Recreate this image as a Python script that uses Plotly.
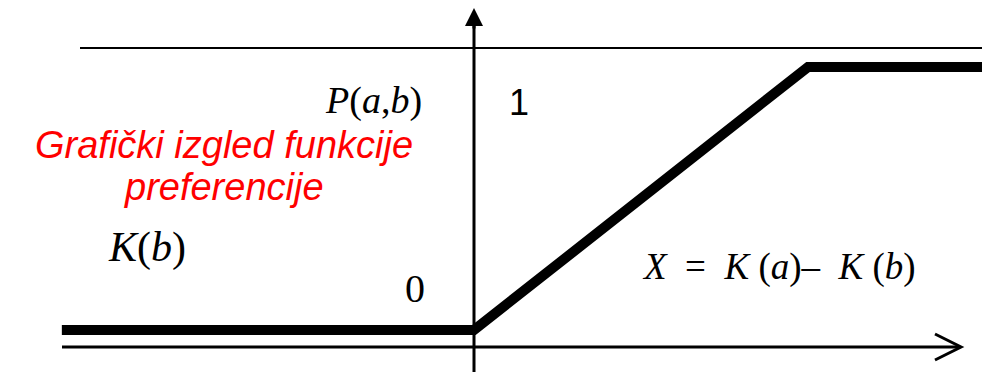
import plotly.graph_objects as go

# preference function P(a,b) against X = K(a) - K(b)
pref_x = [-1.234, 0, 1, 1.53]
pref_y = [0, 0, 1, 1]

W, H = 982, 372
x0_px, x1_px = 474, 808   # pixel of x=0 and x=1
y0_px, y1_px = 330, 67    # pixel of y=0 and y=1

def dx(px):
    return (px - x0_px) / (x1_px - x0_px)

def dy(py):
    return (y0_px - py) / (y0_px - y1_px)

fig = go.Figure()

# thick preference line
fig.add_trace(go.Scatter(x=pref_x, y=pref_y, mode="lines",
                         line=dict(color="black", width=10), hoverinfo="skip"))

# thin top line (level 1 reference)
fig.add_shape(type="line", x0=dx(80), x1=dx(985), y0=dy(48), y1=dy(48),
              line=dict(color="black", width=2))
# horizontal axis
fig.add_shape(type="line", x0=dx(62), x1=dx(958), y0=dy(347), y1=dy(347),
              line=dict(color="black", width=3))
# open arrow head on the horizontal axis
fig.add_shape(type="path",
              path="M %f,%f L %f,%f L %f,%f" % (dx(935), dy(334), dx(961), dy(347), dx(935), dy(360)),
              line=dict(color="black", width=3))
# vertical axis
fig.add_shape(type="line", x0=0, x1=0, y0=dy(372), y1=dy(20),
              line=dict(color="black", width=3))
fig.add_annotation(x=0, y=dy(8), ax=0, ay=dy(30), xref="x", yref="y", axref="x", ayref="y",
                   showarrow=True, arrowhead=2, arrowsize=1.2, arrowwidth=3,
                   arrowcolor="black", text="")

serif = "Liberation Serif"
labels = [
    ("<i>P</i>(<i>a</i>,<i>b</i>)", 373, 100, serif, 38, "black"),
    ("1", 519, 102, "Liberation Sans", 36, "black"),
    ("<i>K</i>(<i>b</i>)", 147, 247, serif, 42, "black"),
    ("0", 415, 288, serif, 40, "black"),
    ("<i>X</i>  =  <i>K</i> (<i>a</i>)–  <i>K</i> (<i>b</i>)", 779, 267, serif, 37, "black"),
    ("<i>Grafički izgled funkcije</i>", 224, 145, "Liberation Sans", 38, "red"),
    ("<i>preferencije</i>", 224, 187, "Liberation Sans", 38, "red"),
]
for txt, px, py, fam, size, col in labels:
    fig.add_annotation(x=dx(px), y=dy(py), text=txt, showarrow=False,
                       font=dict(family=fam, size=size, color=col))

fig.update_xaxes(range=[dx(0), dx(W)], visible=False)
fig.update_yaxes(range=[dy(H), dy(0)], visible=False)
fig.update_layout(width=W, height=H, margin=dict(l=0, r=0, t=0, b=0),
                  plot_bgcolor="white", paper_bgcolor="white", showlegend=False)

fig.write_html("out.html", config={"displayModeBar": False},
               post_script="document.body.style.margin='0';")
